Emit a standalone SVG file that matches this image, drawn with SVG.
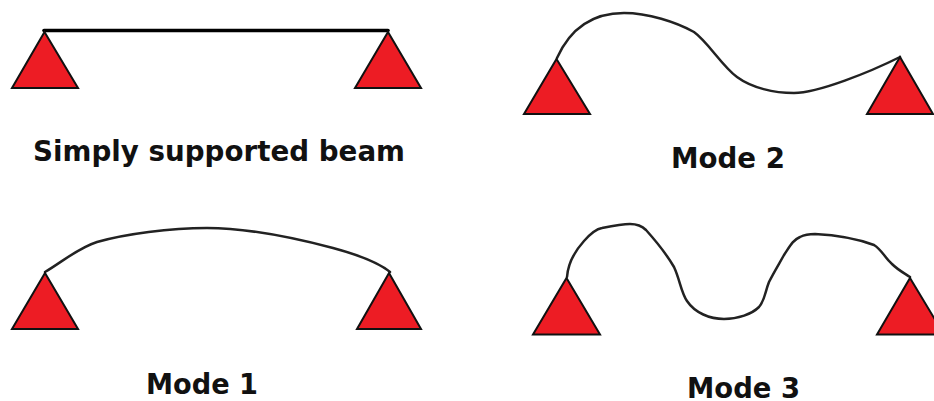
<svg xmlns="http://www.w3.org/2000/svg" width="934" height="401" viewBox="0 0 934 401">
<style>
.tri{fill:#ed1c24;stroke:#111;stroke-width:2;stroke-linejoin:miter}
.curve{fill:none;stroke:#222;stroke-width:2.5;stroke-linecap:round;stroke-linejoin:round}
.lbl{font-family:"DejaVu Sans",Verdana,sans-serif;font-weight:700;font-size:29px;fill:#111}
</style>
<rect width="934" height="401" fill="#fff"/>
<g id="connectors">
<path class="curve" style="stroke:#000;stroke-width:3.6" d="M44 30.500H388"/>
<path class="curve" d="M45 272C62 262 78 248 97 242C125 234 170 228 207 228C250 228 295 238 333 248C355 254 378 262 390 272"/>
<path class="curve" d="M557 58C566 38 584 13 624 13C648 13 676 22 694 32C708 42 722 66 737 77C752 88 774 93 794 93C818 93 870 72 900 57"/>
<path class="curve" d="M567 277C568 263 575 251 584 241C591 233 596 229 602 228C612 226 622 224 630 224C638 224 642 226 646 230C655 240 667 255 674 267C680 280 681 292 687 301C695 313 710 319 724 319C738 319 752 314 759 307C765 300 765 292 769 282C774 272 779 264 784 255C790 246 793 240 800 237C806 234 810 234 815 234C835 235 858 239 874 245C882 250 885 258 892 264C898 270 904 273 910 277"/>
</g>
<g id="beam-supports">
<polygon class="tri" points="44.500,32 78,88 12,88"/>
<polygon class="tri" points="388,32 421,88 355,88"/>
</g>
<g id="mode2-supports">
<polygon class="tri" points="556.500,59 590,114 524,114"/>
<polygon class="tri" points="900,57 933,114 867,114"/>
</g>
<g id="mode1-supports">
<polygon class="tri" points="45,273 78,329 12,329"/>
<polygon class="tri" points="389,273 421,329 357,329"/>
</g>
<g id="mode3-supports">
<polygon class="tri" points="566.500,278 600,334.500 533,334.500"/>
<polygon class="tri" points="910,278 944,334.500 877,334.500"/>
</g>
<g id="labels">
<text id="label-beam" class="lbl" x="33" y="161" textLength="372" lengthAdjust="spacingAndGlyphs">Simply supported beam</text>
<text id="label-mode2" class="lbl" x="671" y="168" textLength="114" lengthAdjust="spacingAndGlyphs">Mode 2</text>
<text id="label-mode1" class="lbl" x="146" y="394" textLength="112" lengthAdjust="spacingAndGlyphs">Mode 1</text>
<text id="label-mode3" class="lbl" x="687" y="398" textLength="113" lengthAdjust="spacingAndGlyphs">Mode 3</text>
</g>
</svg>
